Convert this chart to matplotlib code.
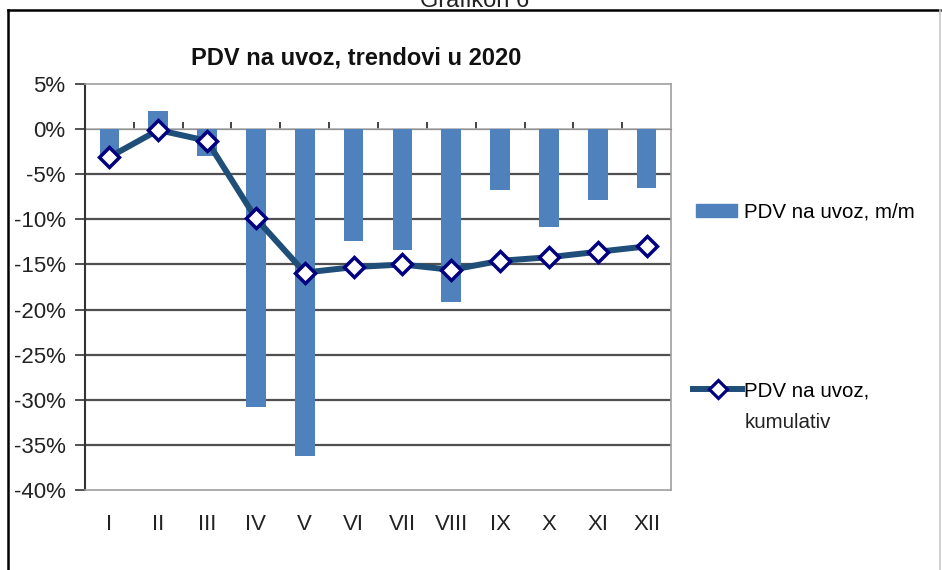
import matplotlib.pyplot as plt
from matplotlib.lines import Line2D
from matplotlib.patches import Patch
import numpy as np

# podaci sa grafikona (u %)
mjeseci = ["I", "II", "III", "IV", "V", "VI", "VII", "VIII", "IX", "X", "XI", "XII"]
mm = [-3.0, 2.0, -3.0, -30.8, -36.2, -12.4, -13.4, -19.2, -6.8, -10.8, -7.9, -6.5]
kumulativ = [-3.1, -0.1, -1.3, -9.9, -15.9, -15.3, -15.0, -15.6, -14.6, -14.2, -13.6, -13.0]
y_ticks = [5, 0, -5, -10, -15, -20, -25, -30, -35, -40]

W, H = 942, 570
fig = plt.figure(figsize=(W / 100, H / 100), dpi=100)
ax = fig.add_axes([85 / W, 1 - 490 / H, (671 - 85) / W, (490 - 84) / H])

font = ["Liberation Sans", "DejaVu Sans"]
x = np.arange(len(mjeseci))

# mreza
for t in y_ticks:
    if t in (0, -40, 5):
        continue
    ax.axhline(t, color="#505050", lw=1.6, zorder=1)
ax.axhline(0, color="#b0b0b0", lw=1.2, zorder=1)

ax.bar(x, mm, width=0.4, color="#4F81BD", zorder=2, label="PDV na uvoz, m/m")
ax.plot(x, kumulativ, color="#1F4E79", lw=4.3, marker="D", markersize=10.5,
        markerfacecolor="white", markeredgecolor="#000080", markeredgewidth=2.5,
        zorder=3)

ax.set_xlim(-0.5, len(mjeseci) - 0.5)
ax.set_ylim(-40, 5)
ax.set_yticks(y_ticks)
ax.set_yticklabels([f"{t}%" for t in y_ticks], fontsize=16, family=font, color="#222222")
ax.set_xticks(x)
ax.set_xticklabels(mjeseci, fontsize=16, family=font, color="#222222")
ax.tick_params(axis="x", length=0, pad=17)
ax.tick_params(axis="y", length=7, width=1.2, color="#333333", pad=7)

for s in ("top", "right", "bottom"):
    ax.spines[s].set_color("#a0a0a0")
    ax.spines[s].set_linewidth(1.2)
ax.spines["left"].set_color("#333333")
ax.spines["left"].set_linewidth(1.5)

# kratke crtice na nultoj liniji izmedju mjeseci
sec = ax.secondary_xaxis(40 / 45)
sec.set_xticks(np.arange(0.5, len(mjeseci) - 0.5, 1))
sec.set_xticklabels([])
sec.tick_params(length=5, width=1.2, color="#222222", direction="out")
sec.spines["bottom"].set_visible(False)

fig.text(356 / W, 1 - 58 / H, "PDV na uvoz, trendovi u 2020", ha="center", va="center",
         fontsize=17, fontweight="bold", family=font, color="#111111")
fig.text(475 / W, 1 - 7 / H, "Grafikon 6", ha="center", va="baseline",
         fontsize=17, family=font, color="#222222")

# okvir
fig.add_artist(Line2D([8 / W, 8 / W], [1 - 10 / H, 0], transform=fig.transFigure,
                      color="black", lw=1.8))
fig.add_artist(Line2D([8 / W, 940 / W], [1 - 10 / H, 1 - 10 / H], transform=fig.transFigure,
                      color="black", lw=1.8))
fig.add_artist(Line2D([940 / W, 940 / W], [1 - 10 / H, 0], transform=fig.transFigure,
                      color="#c8c8c8", lw=1.2))

# legenda
leg1 = fig.legend(handles=[Patch(color="#4F81BD")], labels=["PDV na uvoz, m/m"],
                  loc="center left", bbox_to_anchor=(696 / W, 1 - 212 / H),
                  frameon=False, borderpad=0, borderaxespad=0, handlelength=2.0,
                  handleheight=0.6, handletextpad=0.35,
                  prop={"family": font, "size": 14.8})
h2 = Line2D([], [], color="#1F4E79", lw=4.3, marker="D", markersize=9,
            markerfacecolor="white", markeredgecolor="#000080", markeredgewidth=2.3)
leg2 = fig.legend(handles=[h2], labels=["PDV na uvoz,"],
                  loc="center left", bbox_to_anchor=(693 / W, 1 - 391 / H),
                  frameon=False, borderpad=0, borderaxespad=0, handlelength=2.4,
                  handletextpad=0.1, prop={"family": font, "size": 14.8})
fig.text(745 / W, 1 - 423 / H, "kumulativ", ha="left", va="center",
         fontsize=14.8, family=font, color="#222222")

fig.savefig("out.png", dpi=100)
